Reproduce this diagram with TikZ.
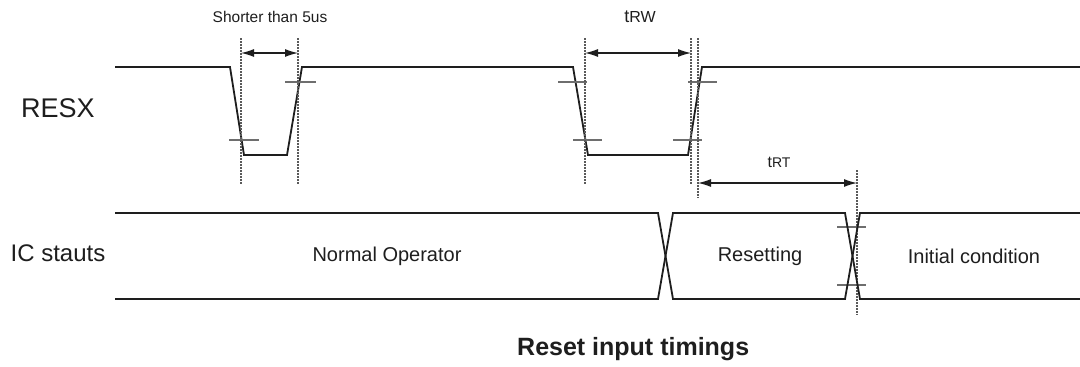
\documentclass[tikz,border=0pt]{standalone}
\usepackage{fontspec}
\setmainfont{Liberation Sans}
\usetikzlibrary{arrows.meta}
\definecolor{ink}{HTML}{1E1E1E}
\definecolor{tickc}{HTML}{6E6E6E}
\definecolor{guidec}{HTML}{5A5A5A}
\tikzset{
  sig/.style={line width=1.8pt, draw=ink, line join=miter},
  tickmark/.style={line width=1.3pt, draw=tickc},
  guide/.style={line width=1.1pt, draw=guidec, dash pattern=on 1.5pt off 1.5pt},
  dimarrow/.style={line width=1.2pt, draw=ink, {Latex[length=13pt,width=8pt]}-{Latex[length=13pt,width=8pt]}},
  lbl/.style={inner sep=0pt, text=ink},
}
\begin{document}
\begin{tikzpicture}[x=1pt,y=-1pt]
\useasboundingbox (0,0) rectangle (1080,367);
\fill[white] (0,0) rectangle (1080,367);

% labels
\node[lbl, font=\fontsize{27}{30}\selectfont] (resx) at (58,108) {RESX};
\node[lbl, font=\fontsize{24}{28}\selectfont] (ic) at (58,253) {IC stauts};

% RESX waveform
\draw[sig] (115,67) -- (230,67) -- (244,155) -- (287,155) -- (302,67)
  -- (573,67) -- (588,155) -- (688,155) -- (702,67) -- (1080,67);

% threshold ticks
\draw[tickmark] (229,140) -- (259,140);
\draw[tickmark] (285,82) -- (316,82);
\draw[tickmark] (558,82) -- (587,82);
\draw[tickmark] (573,140) -- (602,140);
\draw[tickmark] (673,140) -- (702,140);
\draw[tickmark] (688,82) -- (717,82);
\draw[tickmark] (837,227) -- (866,227);
\draw[tickmark] (837,285) -- (866,285);

% guide lines
\coordinate (g1t) at (241,38); \coordinate (g1b) at (241,185);
\coordinate (g2t) at (298,38); \coordinate (g2b) at (298,185);
\coordinate (g3t) at (585,38); \coordinate (g3b) at (585,185);
\coordinate (g4t) at (691,38); \coordinate (g4b) at (691,185);
\coordinate (g5t) at (698,38); \coordinate (g5b) at (698,198);
\coordinate (g6t) at (857,170); \coordinate (g6b) at (857,315);
\foreach \g in {1,...,6} { \draw[guide] (g\g t) -- (g\g b); }

% dimension arrows
\coordinate (a1) at (241,53); \coordinate (a2) at (298,53);
\coordinate (a3) at (585,53); \coordinate (a4) at (691,53);
\coordinate (a5) at (698,183); \coordinate (a6) at (857,183);
\draw[dimarrow] (a1) -- (a2);
\draw[dimarrow] (a3) -- (a4);
\draw[dimarrow] (a5) -- (a6);

\node[lbl, font=\fontsize{15.5}{18}\selectfont] (short) at (270,17) {Shorter than 5us};
\node[lbl] (trw) at (640,17) {{\fontsize{18}{20}\selectfont t}{\fontsize{16}{18}\selectfont RW}};
\node[lbl] (trt) at (779,162) {{\fontsize{16}{18}\selectfont t}{\fontsize{14}{16}\selectfont RT}};

% IC status bus
\draw[sig] (115,213) -- (658,213) -- (673,299) -- (845,299) -- (860,213) -- (1080,213);
\draw[sig] (115,299) -- (658,299) -- (673,213) -- (845,213) -- (860,299) -- (1080,299);

\node[lbl, font=\fontsize{20}{24}\selectfont] (normal) at (387,256) {Normal Operator};
\node[lbl, font=\fontsize{20}{24}\selectfont] (resetting) at (760,256) {Resetting};
\node[lbl, font=\fontsize{20}{24}\selectfont] (init) at (974,256) {Initial condition};

\node[lbl, font=\fontsize{25}{28}\selectfont\bfseries, anchor=west] (title) at (517,349) {Reset input timings};
\end{tikzpicture}
\end{document}
